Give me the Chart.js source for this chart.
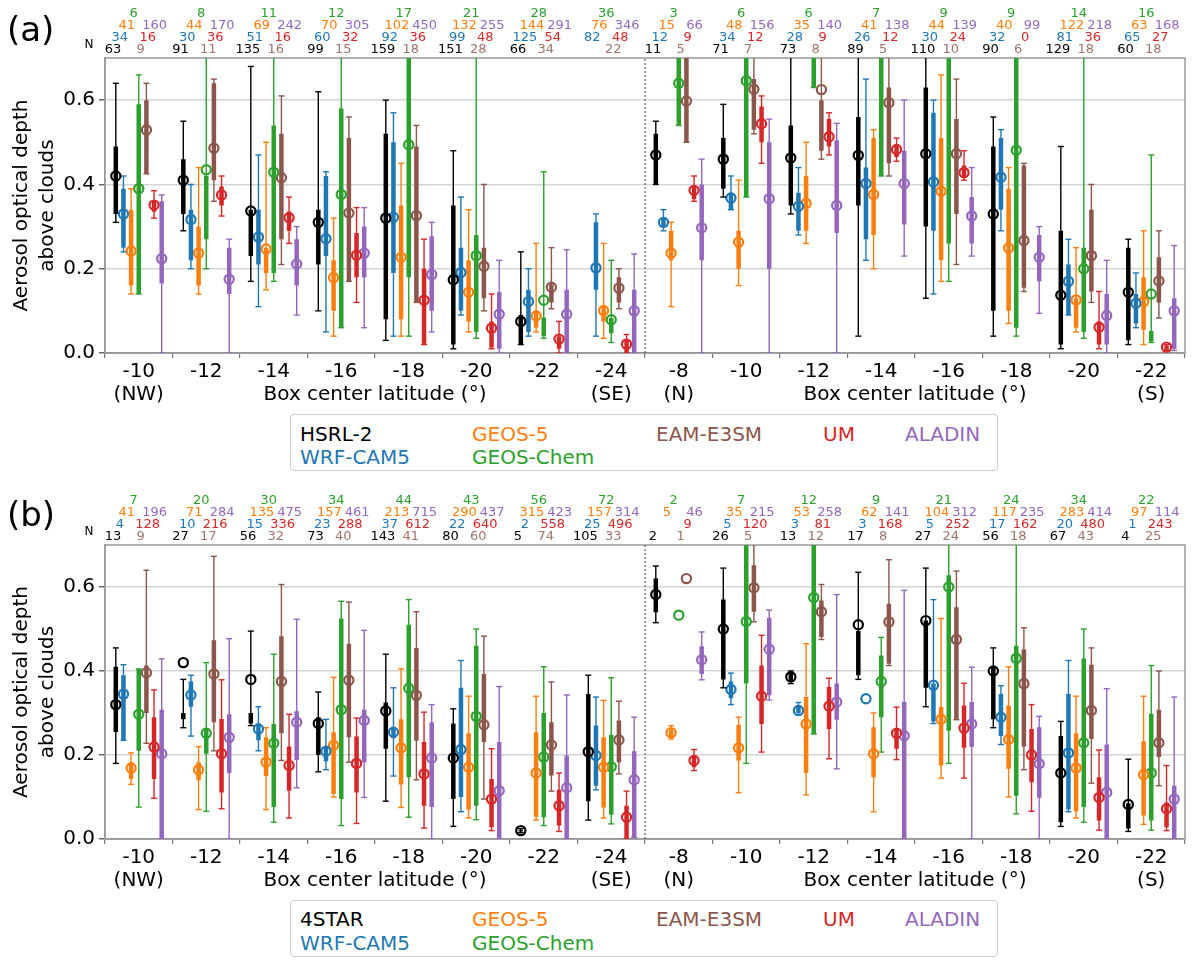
<!DOCTYPE html>
<html>
<head>
<meta charset="utf-8">
<script src="https://cdn.jsdelivr.net/npm/chart.js@4.4.1/dist/chart.umd.min.js"></script>
<style>
  body { margin: 0; background: #fff; font-family: "DejaVu Sans", sans-serif; }
  #page { position: relative; width: 1196px; height: 970px; }
  .panel { position: absolute; left: 0; }
  .tag { position: absolute; left: 7px; font-size: 34px; line-height: 40px; }
  .legend { position: absolute; left: 290px; width: 706px; height: 55px; border: 1px solid #ccc; border-radius: 4px; background: #fff; }
  .legend span { position: absolute; font-size: 20px; line-height: 24px; white-space: nowrap; }
</style>
</head>
<body>
<div id="page">
  <canvas id="ca" class="panel" style="top:0" width="1196" height="485"></canvas>
  <canvas id="cb" class="panel" style="top:485px" width="1196" height="485"></canvas>
  <div class="tag" style="top:9px">(a)</div>
  <div class="tag" style="top:494px">(b)</div>
  <div class="legend" style="top:414px">
    <span style="left:9px;top:7px;color:#000">HSRL-2</span>
    <span style="left:9px;top:30px;color:#1f77b4">WRF-CAM5</span>
    <span style="left:181px;top:7px;color:#ff7f0e">GEOS-5</span>
    <span style="left:181px;top:30px;color:#2ca02c">GEOS-Chem</span>
    <span style="left:365px;top:7px;color:#8c564b">EAM-E3SM</span>
    <span style="left:532px;top:7px;color:#d62728">UM</span>
    <span style="left:614px;top:7px;color:#9467bd">ALADIN</span>
  </div>
  <div class="legend" style="top:900px">
    <span style="left:9px;top:6px;color:#000">4STAR</span>
    <span style="left:9px;top:30px;color:#1f77b4">WRF-CAM5</span>
    <span style="left:181px;top:6px;color:#ff7f0e">GEOS-5</span>
    <span style="left:181px;top:30px;color:#2ca02c">GEOS-Chem</span>
    <span style="left:365px;top:6px;color:#8c564b">EAM-E3SM</span>
    <span style="left:532px;top:6px;color:#d62728">UM</span>
    <span style="left:614px;top:6px;color:#9467bd">ALADIN</span>
  </div>
</div>
<script>
// box centre latitudes: 8 boxes on the NW-SE line, then 8 on the N-S line
const latLabels = ['-10','-12','-14','-16','-18','-20','-22','-24',
                   '-8','-10','-12','-14','-16','-18','-20','-22'];
// end-of-transect notes under the first/last box of each line
const endNotes = ['(NW)','','','','','','','(SE)', '(N)','','','','','','','(S)'];
// model order: obs (HSRL-2 / 4STAR), WRF-CAM5, GEOS-5, GEOS-Chem, EAM-E3SM, UM, ALADIN
const colors = ['#000000','#1f77b4','#ff7f0e','#2ca02c','#8c564b','#d62728','#9467bd'];
const countColors = ['#000000','#1f77b4','#ff7f0e','#2ca02c','#a07468','#d62728','#9467bd'];
const countRow = [0,1,2,3,0,1,2];

// ---- panel (a): HSRL-2 and models ----
const aN = [
  [63,91,135,99,159,151,66,null, 11,71,73,89,110,90,129,60],
  [34,30,51,60,92,99,125,82, 12,34,28,26,30,32,81,65],
  [41,44,69,70,102,132,144,76, 15,48,35,41,44,40,122,63],
  [6,8,11,12,17,21,28,36, 3,6,6,7,9,9,14,16],
  [9,11,16,15,18,28,34,22, 5,7,8,5,10,6,18,18],
  [16,36,16,32,36,48,54,48, 9,12,9,12,24,0,36,27],
  [160,170,242,305,450,255,291,346, 66,156,140,138,139,99,218,168]
];
const aWLo = [
  [0.31,0.29,0.17,0.10,0.03,0.01,0.02,null, 0.40,0.37,0.33,0.04, 0.13,0.04,0.01,0.02],
  [0.24,0.20,0.11,0.05,0.04,0.09,0.04,0.04, 0.29,0.34,0.28,0.22, 0.14,0.29,0.09,0.06],
  [0.14,0.14,0.15,0.04,0.04,0.05,0.05,0.035, 0.11,0.16,0.26,0.20, 0.17,0.07,0.05,0.02],
  [0.14,0.20,0.17,0.06,0.04,0.035,0.035,0.025, 0.54,0.37,0.63,0.42, 0.17,0.04,0.035,0.025],
  [0.425,0.36,0.21,0.17,0.12,0.10,0.105,0.105, 0.50,0.52,0.46,0.42, 0.21,0.146,0.12,0.083],
  [0.32,0.325,0.26,0.12,0.02,0.01,0.0,0.0, 0.36,0.45,0.47,0.455, 0.41,null,0.01,0.007],
  [0.0,0.0,0.09,0.06,0.05,0.0,0.0,0.0, 0.0,0.0,0.0,0.23, 0.23,0.094,0.0,0.006]
];
const aWHi = [
  [0.64,0.55,0.68,0.62,0.60,0.48,0.24,null, 0.55,0.59,0.75,0.75, 0.75,0.56,0.49,0.27],
  [0.42,0.40,0.47,0.43,0.57,0.37,0.20,0.33, 0.34,0.42,0.44,0.65, 0.60,0.53,0.27,0.19],
  [0.39,0.44,0.50,0.32,0.45,0.34,0.26,0.26, 0.31,0.41,0.50,0.53, 0.66,0.44,0.25,0.29],
  [0.66,0.75,0.75,0.75,0.75,0.75,0.43,0.22, 0.75,0.75,0.75,0.75, 0.75,0.75,0.75,0.47],
  [0.64,0.65,0.61,0.56,0.54,0.40,0.25,0.20, 0.75,0.75,0.75,0.75, 0.65,0.45,0.40,0.29],
  [0.385,0.42,0.37,0.345,0.27,0.14,0.075,0.044, 0.42,0.61,0.57,0.51, 0.48,null,0.146,0.02],
  [0.375,0.27,0.30,0.345,0.31,0.22,0.245,0.235, 0.46,0.555,0.545,0.60, 0.44,0.30,0.22,0.255]
];
const aBLo = [
  [0.33,0.33,0.23,0.21,0.08,0.02,0.02,null, 0.40,0.39,0.35,0.35, 0.30,0.10,0.02,0.03],
  [0.25,0.22,0.21,0.23,0.19,0.10,0.05,0.15, 0.30,0.34,0.29,0.27, 0.29,0.34,0.09,0.07],
  [0.16,0.16,0.19,0.10,0.08,0.075,0.06,0.075, 0.22,0.20,0.29,0.28, 0.22,0.10,0.06,0.055],
  [0.14,0.27,0.19,0.06,0.18,0.05,0.04,0.047, 0.54,0.37,0.63,0.42, 0.26,0.06,0.05,0.027],
  [0.425,0.41,0.27,0.17,0.12,0.13,0.12,0.12, 0.50,0.53,0.48,0.45, 0.33,0.155,0.146,0.12],
  [0.335,0.35,0.29,0.18,0.022,0.013,0.01,0.0, 0.365,0.50,0.49,0.465, 0.415,null,0.02,0.008],
  [0.165,0.14,0.16,0.18,0.10,0.01,0.0,0.0, 0.22,0.20,0.285,0.305, 0.26,0.17,0.02,0.01]
];
const aBHi = [
  [0.49,0.46,0.34,0.34,0.52,0.35,0.09,null, 0.52,0.51,0.54,0.56, 0.63,0.49,0.29,0.25],
  [0.39,0.34,0.34,0.42,0.50,0.25,0.15,0.31, 0.32,0.38,0.38,0.44, 0.57,0.51,0.21,0.14],
  [0.34,0.30,0.25,0.22,0.35,0.22,0.10,0.11, 0.29,0.29,0.42,0.51, 0.51,0.39,0.13,0.18],
  [0.59,0.42,0.54,0.58,0.75,0.28,0.084,0.083, 0.75,0.75,0.75,0.75, 0.75,0.75,0.25,0.052],
  [0.60,0.64,0.52,0.51,0.49,0.25,0.163,0.18, 0.70,0.65,0.60,0.63, 0.555,0.445,0.34,0.227],
  [0.36,0.395,0.335,0.285,0.20,0.075,0.04,0.03, 0.395,0.585,0.555,0.495, 0.445,null,0.075,0.018],
  [0.36,0.25,0.27,0.30,0.277,0.145,0.15,0.15, 0.40,0.50,0.505,0.48, 0.37,0.28,0.14,0.13]
];
const aMean = [
  [0.42,0.41,0.337,0.31,0.32,0.174,0.075,null, 0.47,0.46,0.463,0.469, 0.473,0.33,0.137,0.144],
  [0.33,0.317,0.275,0.271,0.322,0.191,0.122,0.202, 0.31,0.368,0.348,0.402, 0.406,0.417,0.17,0.118],
  [0.242,0.237,0.247,0.179,0.227,0.144,0.088,0.101, 0.237,0.263,0.355,0.376, 0.384,0.249,0.126,0.122],
  [0.39,0.435,0.429,0.376,0.494,0.231,0.125,0.079, 0.64,0.646,null,null, null,0.481,0.20,0.14],
  [0.529,0.486,0.416,0.332,0.326,0.206,0.156,0.154, 0.598,0.626,0.625,0.594, 0.473,0.267,0.231,0.171],
  [0.351,0.375,0.321,0.232,0.125,0.059,0.033,0.021, 0.386,0.544,0.513,0.483, 0.428,null,0.061,0.014],
  [0.224,0.175,0.211,0.237,0.186,0.092,0.092,0.10, 0.297,0.366,0.35,0.402, 0.325,0.227,0.089,0.10]
];

// ---- panel (b): 4STAR and models ----
const bN = [
  [13,27,56,73,143,80,5,105, 2,26,13,17,27,56,67,4],
  [4,10,15,23,37,22,2,25, null,5,3,3,5,17,20,1],
  [41,71,135,157,213,290,315,157, 5,35,53,62,104,117,283,97],
  [7,20,30,34,44,43,56,72, 2,7,12,9,21,24,34,22],
  [9,17,32,40,41,60,74,33, 1,5,12,8,24,18,43,25],
  [128,216,336,288,612,640,558,496, 9,120,81,168,252,162,480,243],
  [196,284,475,461,715,437,423,314, 46,215,258,141,312,235,414,114]
];
const bWLo = [
  [0.18,0.265,0.27,0.16,0.09,0.03,0.015,0.045, 0.515,0.36,0.37,0.38, 0.315,0.265,0.03,0.018],
  [0.235,0.245,0.21,0.165,0.15,0.065,null,0.117, null,0.32,0.295,null, 0.275,0.225,0.065,null],
  [0.13,0.07,0.07,0.10,0.075,0.05,0.045,0.05, 0.238,0.11,0.105,0.065, 0.145,0.10,0.05,0.035],
  [0.076,0.066,0.04,0.032,0.052,0.046,0.032,0.036, null,0.18,0.25,0.207, 0.18,0.06,0.04,0.021],
  [0.228,0.21,0.187,0.183,0.141,0.095,0.114,0.155, null,0.517,0.475,0.413, 0.284,0.165,0.133,0.127],
  [0.097,0.072,0.05,0.037,0.026,0.02,0.018,0.0, 0.163,0.207,0.191,0.189, 0.145,0.066,0.021,0.02],
  [0.0,0.0,0.122,0.099,0.0,0.0,0.0,0.004, 0.379,0.331,0.167,0.0, 0.0,0.0,0.0,0.0]
];
const bWHi = [
  [0.455,0.38,0.495,0.35,0.44,0.31,0.025,0.39, 0.65,0.645,0.40,0.635, 0.645,0.455,0.28,0.19],
  [0.415,0.39,0.315,0.285,0.36,0.425,null,0.338, null,0.395,0.325,null, 0.57,0.365,0.425,null],
  [0.205,0.22,0.265,0.385,0.405,0.34,0.34,0.33, 0.27,0.29,0.465,0.30, 0.525,0.41,0.34,0.34],
  [0.405,0.42,0.44,0.566,0.57,0.50,0.41,0.384, null,0.75,0.75,0.48, 0.75,0.75,0.50,0.413],
  [0.64,0.673,0.606,0.564,0.541,0.483,0.374,0.328, null,0.75,0.606,0.665, 0.638,0.503,0.455,0.40],
  [0.355,0.379,0.297,0.288,0.302,0.215,0.157,0.114, 0.213,0.485,0.383,0.314, 0.371,0.32,0.212,0.175],
  [0.429,0.477,0.523,0.497,0.32,0.363,0.343,0.29, 0.493,0.545,0.582,0.592, 0.409,0.292,0.358,0.338]
];
const bBLo = [
  [0.255,0.285,0.275,0.20,0.215,0.095,0.018,0.09, 0.54,0.38,0.375,0.39, 0.36,0.285,0.04,0.025],
  [0.235,0.315,0.235,0.185,0.24,0.10,null,0.127, null,0.335,0.30,null, 0.28,0.245,0.07,null],
  [0.143,0.14,0.15,0.107,0.13,0.07,0.053,0.075, 0.244,0.187,0.157,0.147, 0.175,0.167,0.066,0.056],
  [0.21,0.203,0.076,0.095,0.147,0.079,0.052,0.058, null,0.37,0.25,0.29, 0.258,0.103,0.076,0.044],
  [0.30,0.278,0.252,0.242,0.234,0.231,0.151,0.183, null,0.541,0.481,0.417, 0.284,0.22,0.238,0.195],
  [0.143,0.111,0.115,0.111,0.079,0.028,0.032,0.0, 0.171,0.274,0.262,0.215, 0.217,0.135,0.044,0.028],
  [0.0,0.157,0.188,0.183,0.076,0.0,0.0,0.004, 0.393,0.342,0.284,0.0, 0.219,0.098,0.0,0.0]
];
const bBHi = [
  [0.41,0.30,0.30,0.29,0.325,0.275,0.022,0.345, 0.62,0.57,0.395,0.495, 0.52,0.41,0.245,0.085],
  [0.39,0.375,0.275,0.22,0.265,0.36,null,0.27, null,0.375,0.318,null, 0.37,0.345,0.345,null],
  [0.183,0.183,0.242,0.254,0.285,0.252,0.254,0.242, 0.26,0.272,0.338,0.266, 0.314,0.318,0.252,0.233],
  [0.405,0.262,0.274,0.525,0.51,0.46,0.30,0.248, null,0.75,0.75,0.437, 0.628,0.46,0.43,0.298],
  [0.413,0.473,0.483,0.465,0.455,0.393,0.278,0.282, null,0.652,0.568,0.56, 0.552,0.451,0.415,0.308],
  [0.29,0.286,0.22,0.244,0.231,0.143,0.117,0.079, 0.199,0.413,0.362,0.262, 0.318,0.262,0.147,0.087],
  [0.308,0.297,0.304,0.308,0.278,0.231,0.199,0.209, 0.459,0.527,0.37,0.326, 0.326,0.266,0.225,0.127]
];
const bMean = [
  [0.32,0.42,0.38,0.275,0.305,0.193,0.02,0.208, 0.582,0.50,0.386,0.51, 0.52,0.40,0.157,0.082],
  [0.345,0.343,0.262,0.209,0.254,0.213,null,0.199, null,0.356,0.306,0.334, 0.366,0.29,0.205,null],
  [0.169,0.165,0.183,0.223,0.217,0.171,0.157,0.171, 0.253,0.217,0.274,0.203, 0.285,0.237,0.169,0.153],
  [0.297,0.252,0.228,0.308,0.359,0.292,0.195,0.172, 0.533,0.518,0.575,0.375, 0.60,0.43,0.229,0.157],
  [0.396,0.393,0.375,0.378,0.342,0.272,0.224,0.236, 0.62,0.598,0.541,0.517, 0.475,0.37,0.306,0.229],
  [0.219,0.203,0.175,0.18,0.155,0.095,0.079,0.052, 0.187,0.34,0.316,0.252, 0.264,0.2,0.099,0.072],
  [0.203,0.242,0.278,0.282,0.193,0.115,0.122,0.141, 0.427,0.452,0.326,0.246, 0.274,0.179,0.111,0.095]
];

// x position of model j inside box g (linear axis, one unit per box)
function modelX(g, j) { return g + 0.5 + (j - 3) * 0.1133; }

function buildDatasets(wLo, wHi, bLo, bHi, mean) {
  const sets = [];
  colors.forEach((c, j) => {
    const whisk = [], caps = [], box = [], mid = [];
    for (let g = 0; g < latLabels.length; g++) {
      const x = modelX(g, j);
      if (wLo[j][g] !== null) {
        whisk.push({x, y: wLo[j][g]}, {x, y: wHi[j][g]}, {x, y: null});
        caps.push({x, y: wLo[j][g]}, {x, y: wHi[j][g]});
      }
      if (bLo[j][g] !== null) box.push({x, y: bLo[j][g]}, {x, y: bHi[j][g]}, {x, y: null});
      if (mean[j][g] !== null) mid.push({x, y: mean[j][g]});
    }
    sets.push({data: whisk, xAxisID: 'xl', borderColor: c, borderWidth: 1.4, pointRadius: 0, spanGaps: false});
    sets.push({data: caps, xAxisID: 'xl', showLine: false, pointStyle: 'line', pointRadius: 3,
               pointBorderWidth: 1.4, pointBorderColor: c});
    sets.push({data: box, xAxisID: 'xl', borderColor: c, borderWidth: 4.5, pointRadius: 0, spanGaps: false,
               borderCapStyle: 'butt'});
    sets.push({data: mid, xAxisID: 'xl', showLine: false, pointStyle: 'circle', pointRadius: 4.6,
               pointBorderWidth: 2.2, pointBorderColor: c, pointBackgroundColor: '#fff'});
  });
  // dotted separator between the two transects
  sets.push({data: [{x: 8, y: 0}, {x: 8, y: 0.7}], xAxisID: 'xl', borderColor: '#444', borderWidth: 1,
             borderDash: [2, 2], pointRadius: 0});
  return sets;
}

const extras = {
  id: 'extras',
  beforeDatasetsDraw(chart) {
    const {ctx, chartArea: a} = chart;
    ctx.save();
    ctx.strokeStyle = '#999';
    ctx.lineWidth = 1.5;
    ctx.strokeRect(a.left, a.top, a.right - a.left, a.bottom - a.top);
    ctx.restore();
  },
  afterDraw(chart, args, opts) {
    const {ctx, chartArea: a} = chart;
    const xs = chart.scales.xl;
    ctx.save();
    ctx.textAlign = 'center';
    ctx.textBaseline = 'middle';
    ctx.font = '13px "DejaVu Sans"';
    const lift = [8, 20, 32, 44.5];
    opts.counts.forEach((row, j) => row.forEach((n, g) => {
      if (n === null) return;
      ctx.fillStyle = countColors[j];
      ctx.fillText(String(n), xs.getPixelForValue(g + 0.5 + (j - 3) * 0.103 - 0.074), a.top - lift[countRow[j]]);
    }));
    ctx.fillStyle = '#000';
    ctx.font = '12px "DejaVu Sans"';
    ctx.fillText('N', a.left - 16, a.top - 13);
    ctx.font = '20px "DejaVu Sans"';
    const y2 = a.bottom + 42;
    endNotes.forEach((t, g) => { if (t) ctx.fillText(t, xs.getPixelForValue(g + 0.5), y2); });
    ctx.fillText('Box center latitude (°)', xs.getPixelForValue(4), y2);
    ctx.fillText('Box center latitude (°)', xs.getPixelForValue(12), y2);
    ctx.restore();
  }
};

function makeChart(id, sets, counts, padTop, padBottom) {
  return new Chart(document.getElementById(id), {
    type: 'line',
    data: {labels: latLabels, datasets: sets},
    plugins: [extras],
    options: {
      responsive: false,
      animation: false,
      layout: {padding: {top: padTop, right: 11, bottom: padBottom, left: 0}},
      plugins: {legend: {display: false}, tooltip: {enabled: false}, extras: {counts: counts}},
      scales: {
        x: {
          type: 'category', offset: true,
          grid: {offset: true, drawOnChartArea: false, tickLength: 5, color: '#777', lineWidth: 1.2},
          border: {color: '#999', width: 1.5},
          ticks: {autoSkip: false, maxRotation: 0, padding: 2, color: '#000',
                  font: {family: 'DejaVu Sans', size: 20, lineHeight: 1.2}},
          afterFit(s) { s.height = 60; }
        },
        xl: {type: 'linear', display: false, min: 0, max: 16},
        y: {
          min: 0, max: 0.7,
          afterBuildTicks(s) { s.ticks = [0, 0.2, 0.4, 0.6].map(v => ({value: v})); },
          ticks: {callback: v => v.toFixed(1), color: '#000', padding: 4, font: {family: 'DejaVu Sans', size: 20}},
          grid: {color: '#d4d4d4', lineWidth: 1.5, tickLength: 6, tickColor: '#666'},
          border: {color: '#999', width: 1.5},
          title: {display: true, text: ['Aerosol optical depth', 'above clouds'], color: '#000',
                  font: {family: 'DejaVu Sans', size: 20, lineHeight: 1.3}, padding: {top: 9, bottom: 0}},
          afterFit(s) { s.width = 105; }
        }
      }
    }
  });
}

makeChart('ca', buildDatasets(aWLo, aWHi, aBLo, aBHi, aMean), aN, 58, 72);
makeChart('cb', buildDatasets(bWLo, bWHi, bBLo, bBHi, bMean), bN, 60, 71);
</script>
</body>
</html>
